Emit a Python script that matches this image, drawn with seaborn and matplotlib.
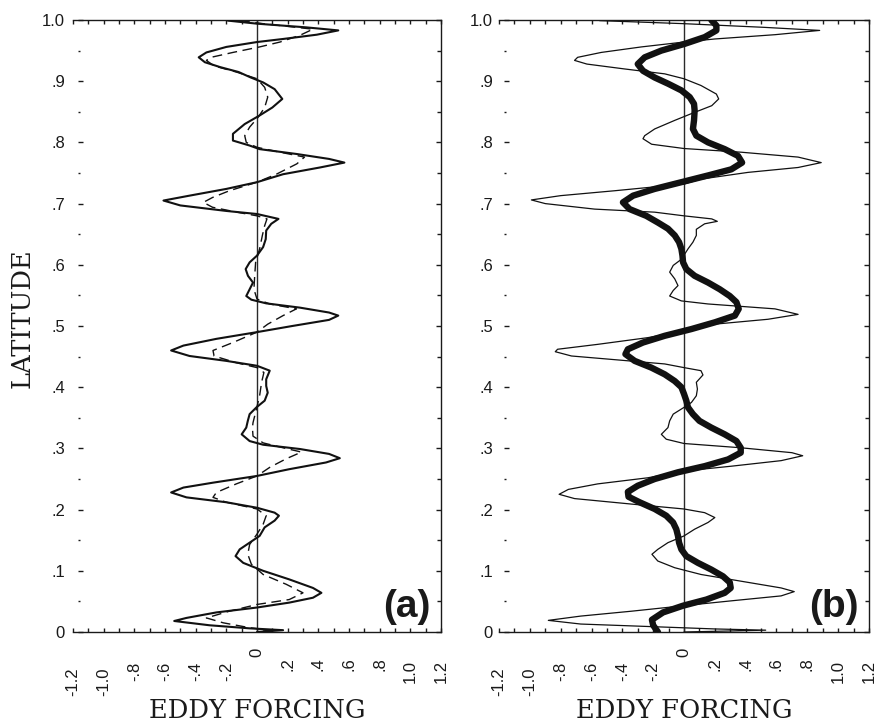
import numpy as np
import pandas as pd
import matplotlib
matplotlib.use("Agg")
import matplotlib.pyplot as plt
import matplotlib.transforms as mtransforms
import seaborn as sns

# ---- data (latitude, eddy forcing) ----
lat_a_solid = [0.999, 0.994, 0.988, 0.983, 0.976, 0.969, 0.964, 0.956, 0.947, 0.939, 0.931, 0.923, 0.915, 0.906,
               0.898, 0.887, 0.871, 0.857, 0.844, 0.830, 0.814, 0.803, 0.795, 0.789, 0.781, 0.773, 0.767, 0.759,
               0.748, 0.735, 0.724, 0.713, 0.705, 0.697, 0.688, 0.683, 0.675, 0.667, 0.656, 0.642, 0.629, 0.615,
               0.604, 0.593, 0.582, 0.571, 0.560, 0.549, 0.543, 0.537, 0.530, 0.522, 0.517, 0.510, 0.500, 0.490,
               0.479, 0.468, 0.460, 0.451, 0.443, 0.435, 0.427, 0.413, 0.402, 0.391, 0.378, 0.367, 0.356, 0.345,
               0.334, 0.323, 0.312, 0.306, 0.299, 0.291, 0.284, 0.277, 0.266, 0.255, 0.244, 0.236, 0.228, 0.220,
               0.212, 0.203, 0.195, 0.190, 0.182, 0.171, 0.157, 0.146, 0.135, 0.124, 0.113, 0.100, 0.086, 0.072,
               0.064, 0.056, 0.048, 0.040, 0.032, 0.023, 0.018, 0.011, 0.006, 0.003, 0.0]
val_a_solid = [-0.19, 0.0, 0.32, 0.53, 0.39, 0.17, 0.0, -0.2, -0.33, -0.38, -0.34, -0.24, -0.12, -0.04,
               0.04, 0.115, 0.165, 0.10, 0.017, -0.08, -0.157, -0.157, -0.05, 0.017, 0.26, 0.47, 0.57, 0.41,
               0.17, 0.0, -0.2, -0.44, -0.61, -0.50, -0.2, 0.0, 0.14, 0.093, 0.06, 0.057, 0.04, 0.0,
               -0.048, -0.074, -0.059, -0.026, -0.048, -0.07, -0.037, 0.06, 0.28, 0.47, 0.53, 0.47, 0.23, 0.0,
               -0.265, -0.48, -0.56, -0.44, -0.2, 0.0, 0.083, 0.06, 0.06, 0.07, 0.05, -0.004, -0.048, -0.06,
               -0.07, -0.1, -0.048, 0.04, 0.28, 0.47, 0.54, 0.45, 0.21, 0.0, -0.287, -0.48, -0.56, -0.46,
               -0.2, 0.0, 0.115, 0.143, 0.115, 0.05, 0.017, -0.048, -0.113, -0.14, -0.09, 0.04, 0.21, 0.365,
               0.42, 0.365, 0.21, 0.0, -0.265, -0.46, -0.54, -0.31, -0.05, 0.17, 0.0]

lat_a_dash = [0.999, 0.994, 0.985, 0.975, 0.964, 0.956, 0.947, 0.939, 0.934, 0.925, 0.915, 0.904, 0.890, 0.874,
              0.857, 0.841, 0.825, 0.811, 0.800, 0.792, 0.784, 0.776, 0.765, 0.748, 0.735, 0.721, 0.710, 0.702,
              0.694, 0.685, 0.680, 0.675, 0.664, 0.648, 0.626, 0.604, 0.582, 0.560, 0.544, 0.536, 0.528, 0.517,
              0.503, 0.490, 0.473, 0.460, 0.451, 0.440, 0.432, 0.424, 0.408, 0.386, 0.364, 0.342, 0.334, 0.320,
              0.309, 0.301, 0.294, 0.283, 0.269, 0.255, 0.242, 0.228, 0.220, 0.212, 0.201, 0.190, 0.176, 0.160,
              0.143, 0.127, 0.111, 0.094, 0.078, 0.064, 0.053, 0.045, 0.034, 0.023, 0.015, 0.007, 0.003, 0.0]
val_a_dash = [-0.11, 0.04, 0.365, 0.28, 0.15, 0.017, -0.157, -0.3, -0.33, -0.28, -0.135, 0.0, 0.05, 0.07,
              0.05, 0.007, -0.048, -0.08, -0.07, 0.0, 0.15, 0.31, 0.26, 0.126, 0.0, -0.18, -0.29, -0.35,
              -0.29, -0.11, 0.0, 0.065, 0.05, 0.035, 0.017, -0.009, -0.015, -0.02, 0.0, 0.083, 0.257, 0.17,
              0.07, 0.0, -0.157, -0.287, -0.28, -0.135, 0.0, 0.045, 0.03, 0.017, -0.004, -0.026, -0.03, -0.026,
              0.04, 0.17, 0.29, 0.19, 0.083, 0.0, -0.135, -0.265, -0.287, -0.2, 0.0, 0.06, 0.04, 0.0,
              -0.048, -0.06, -0.037, 0.04, 0.19, 0.3, 0.21, 0.0, -0.18, -0.33, -0.22, -0.048, 0.08, 0.0]

lat_b_thin = [0.999, 0.994, 0.988, 0.983, 0.976, 0.969, 0.964, 0.956, 0.947, 0.939, 0.934, 0.928, 0.920, 0.912,
              0.904, 0.893, 0.879, 0.871, 0.860, 0.847, 0.836, 0.822, 0.811, 0.806, 0.797, 0.790, 0.784, 0.776,
              0.767, 0.759, 0.751, 0.740, 0.732, 0.721, 0.713, 0.706, 0.700, 0.691, 0.686, 0.680, 0.675, 0.671,
              0.667, 0.658, 0.648, 0.637, 0.626, 0.609, 0.599, 0.588, 0.577, 0.566, 0.558, 0.549, 0.541, 0.536,
              0.528, 0.519, 0.511, 0.503, 0.492, 0.481, 0.470, 0.462, 0.458, 0.451, 0.445, 0.438, 0.432, 0.427,
              0.420, 0.408, 0.397, 0.386, 0.375, 0.367, 0.356, 0.345, 0.334, 0.323, 0.315, 0.308, 0.301, 0.293,
              0.288, 0.280, 0.271, 0.263, 0.252, 0.242, 0.233, 0.225, 0.218, 0.209, 0.201, 0.195, 0.187, 0.179,
              0.168, 0.157, 0.146, 0.135, 0.127, 0.116, 0.105, 0.094, 0.083, 0.072, 0.066, 0.059, 0.051, 0.043,
              0.034, 0.026, 0.019, 0.013, 0.008, 0.005, 0.003, 0.0]
val_b_thin = [-0.548, 0.0, 0.52, 0.88, 0.59, 0.2, 0.0, -0.277, -0.537, -0.69, -0.71, -0.63, -0.385, -0.125,
              0.0, 0.11, 0.21, 0.225, 0.18, 0.048, -0.06, -0.19, -0.255, -0.266, -0.21, 0.0, 0.37, 0.74,
              0.89, 0.74, 0.415, 0.11, 0.0, -0.45, -0.8, -0.99, -0.9, -0.58, -0.19, 0.0, 0.18, 0.216,
              0.134, 0.08, 0.08, 0.058, 0.026, -0.017, -0.07, -0.093, -0.06, -0.039, -0.07, -0.093, -0.017, 0.156,
              0.59, 0.74, 0.545, 0.2, 0.0, -0.234, -0.56, -0.82, -0.835, -0.73, -0.45, -0.125, 0.0, 0.11,
              0.123, 0.08, 0.087, 0.08, 0.048, 0.0, -0.07, -0.093, -0.104, -0.147, -0.115, 0.0, 0.37, 0.70,
              0.77, 0.63, 0.31, 0.0, -0.234, -0.56, -0.75, -0.81, -0.71, -0.34, 0.0, 0.134, 0.2, 0.156,
              0.069, 0.0, -0.104, -0.17, -0.208, -0.17, -0.06, 0.11, 0.37, 0.63, 0.715, 0.63, 0.31, 0.0,
              -0.34, -0.67, -0.88, -0.67, -0.125, 0.2, 0.53, 0.0]

lat_b_thick = [1.0, 0.991, 0.983, 0.972, 0.961, 0.950, 0.939, 0.928, 0.917, 0.906, 0.896, 0.885, 0.874, 0.863,
               0.852, 0.836, 0.822, 0.811, 0.800, 0.789, 0.778, 0.767, 0.756, 0.746, 0.735, 0.724, 0.713, 0.702,
               0.691, 0.680, 0.669, 0.659, 0.648, 0.637, 0.626, 0.615, 0.604, 0.593, 0.582, 0.571, 0.560, 0.549,
               0.539, 0.528, 0.517, 0.506, 0.495, 0.484, 0.473, 0.462, 0.454, 0.443, 0.432, 0.421, 0.410, 0.400,
               0.389, 0.378, 0.367, 0.356, 0.345, 0.334, 0.323, 0.312, 0.301, 0.293, 0.282, 0.271, 0.261, 0.250,
               0.239, 0.229, 0.221, 0.212, 0.201, 0.190, 0.179, 0.168, 0.157, 0.146, 0.135, 0.124, 0.113, 0.102,
               0.091, 0.081, 0.072, 0.064, 0.053, 0.043, 0.032, 0.020, 0.011, 0.0]
val_b_thick = [0.177, 0.21, 0.21, 0.134, 0.004, -0.147, -0.255, -0.30, -0.266, -0.19, -0.104, -0.017, 0.037, 0.065,
               0.069, 0.065, 0.058, 0.08, 0.156, 0.264, 0.35, 0.377, 0.307, 0.156, -0.017, -0.19, -0.33, -0.396,
               -0.353, -0.245, -0.169, -0.104, -0.06, -0.032, -0.017, -0.01, -0.006, 0.015, 0.069, 0.156, 0.232, 0.297,
               0.34, 0.355, 0.33, 0.2, 0.048, -0.125, -0.266, -0.364, -0.38, -0.32, -0.212, -0.125, -0.06, -0.017,
               0.0, 0.015, 0.026, 0.058, 0.1, 0.177, 0.264, 0.34, 0.368, 0.368, 0.286, 0.134, -0.039, -0.19,
               -0.30, -0.364, -0.36, -0.288, -0.19, -0.115, -0.071, -0.05, -0.039, -0.032, -0.017, 0.015, 0.09, 0.177,
               0.253, 0.297, 0.303, 0.264, 0.145, -0.006, -0.136, -0.208, -0.2, -0.169]

x_tick_values = [-1.2, -1.0, -0.8, -0.6, -0.4, -0.2, 0.0, 0.2, 0.4, 0.6, 0.8, 1.0, 1.2]
x_tick_labels = ["-1.2", "-1.0", "-.8", "-.6", "-.4", "-.2", "0", ".2", ".4", ".6", ".8", "1.0", "1.2"]
y_tick_values = [0.0, 0.1, 0.2, 0.3, 0.4, 0.5, 0.6, 0.7, 0.8, 0.9, 1.0]
y_tick_labels = ["0", ".1", ".2", ".3", ".4", ".5", ".6", ".7", ".8", ".9", "1.0"]
panel_labels = ["(a)", "(b)"]

# vertical drop (px) of each rotated x label below the axis (the scanned original is uneven)
X_LABEL_DROP = [35, 35, 30, 30, 30, 30, 16, 25, 25, 25, 25, 28, 28]

sns.set_style("ticks")
plt.rcParams["font.family"] = ["Liberation Sans", "DejaVu Sans"]

DPI = 100
W, H = 876, 726
fig = plt.figure(figsize=(W / DPI, H / DPI), dpi=DPI)
ax_a = fig.add_axes([73 / W, 1 - 632 / H, 368 / W, 612 / H])
ax_b = fig.add_axes([499 / W, 1 - 632 / H, 370 / W, 612 / H])


def style_axis(ax, label_pad):
    ax.set_xlim(-1.2, 1.2)
    ax.set_ylim(0, 1)
    ax.axvline(0, color="#2a2a2a", lw=1.0, zorder=1)
    for side in ["top", "bottom", "right"]:
        ax.spines[side].set_linewidth(1.0)
        ax.spines[side].set_color("#1a1a1a")
    ax.spines["left"].set_visible(False)
    ax.spines["left"].set_position(("outward", -3.6))

    ax.set_xticks(np.arange(-1.2, 1.21, 0.1))
    ax.tick_params(axis="x", which="both", direction="in", top=True, bottom=True,
                   length=3.2, width=1.0, color="#1a1a1a", labelbottom=False)

    ax.set_yticks(y_tick_values)
    ax.set_yticklabels(y_tick_labels)
    ax.set_yticks(np.arange(0.05, 1.0, 0.1), minor=True)
    ax.tick_params(axis="y", which="major", direction="in", left=True, right=True,
                   length=3.6, width=1.0, color="#1a1a1a", labelsize=12, pad=label_pad,
                   labelcolor="#1a1a1a")
    ax.tick_params(axis="y", which="minor", direction="in", left=True, right=True,
                   length=1.5, width=1.0, color="#1a1a1a")
    # right-side minor ticks are full length in the original
    for t in ax.yaxis.get_minor_ticks():
        t.tick2line.set_markersize(3.2)

    trans = mtransforms.blended_transform_factory(ax.transData, ax.transAxes)
    for xv, lab, drop in zip(x_tick_values, x_tick_labels, X_LABEL_DROP):
        off = mtransforms.ScaledTranslation(0, -drop / DPI, fig.dpi_scale_trans)
        ax.text(xv, 0, lab, transform=trans + off, rotation=90, ha="center", va="top",
                fontsize=12, color="#1a1a1a")

    ax.set_xlabel("")
    ax.set_ylabel("")


# panel (a): two eddy forcing estimates, solid and dashed
df_a1 = pd.DataFrame({"lat": lat_a_solid, "forcing": val_a_solid})
df_a2 = pd.DataFrame({"lat": lat_a_dash, "forcing": val_a_dash})
sns.lineplot(data=df_a1, x="forcing", y="lat", sort=False, estimator=None, color="#111111",
             lw=1.5, ax=ax_a, zorder=3, solid_joinstyle="round")
sns.lineplot(data=df_a2, x="forcing", y="lat", sort=False, estimator=None, color="#111111",
             lw=1.0, ax=ax_a, zorder=2)
ax_a.lines[-1].set_dashes([7, 4])
style_axis(ax_a, 9.4)

# panel (b): thin full forcing and thick smoothed forcing
df_b1 = pd.DataFrame({"lat": lat_b_thin, "forcing": val_b_thin})
df_b2 = pd.DataFrame({"lat": lat_b_thick, "forcing": val_b_thick})
sns.lineplot(data=df_b1, x="forcing", y="lat", sort=False, estimator=None, color="#111111",
             lw=0.9, ax=ax_b, zorder=2, solid_joinstyle="round")
sns.lineplot(data=df_b2, x="forcing", y="lat", sort=False, estimator=None, color="#111111",
             lw=4.6, ax=ax_b, zorder=3, solid_capstyle="round", solid_joinstyle="round")
style_axis(ax_b, 8.0)

for ax, lab in zip([ax_a, ax_b], panel_labels):
    ax.text(0.972, 0.012, lab, transform=ax.transAxes, ha="right", va="bottom",
            fontsize=28, fontweight="bold", color="#1a1a1a")

serif = ["DejaVu Serif"]
for xc in [257, 684]:
    fig.text(xc / W, 1 - 711 / H, "EDDY FORCING", ha="center", va="center", fontsize=18.5,
             family=serif, color="#1a1a1a")
fig.text(22 / W, 1 - 318 / H, "LATITUDE", ha="center", va="center", rotation=90, fontsize=18.5,
         family=serif, color="#1a1a1a")

fig.savefig("out.png", dpi=DPI)
